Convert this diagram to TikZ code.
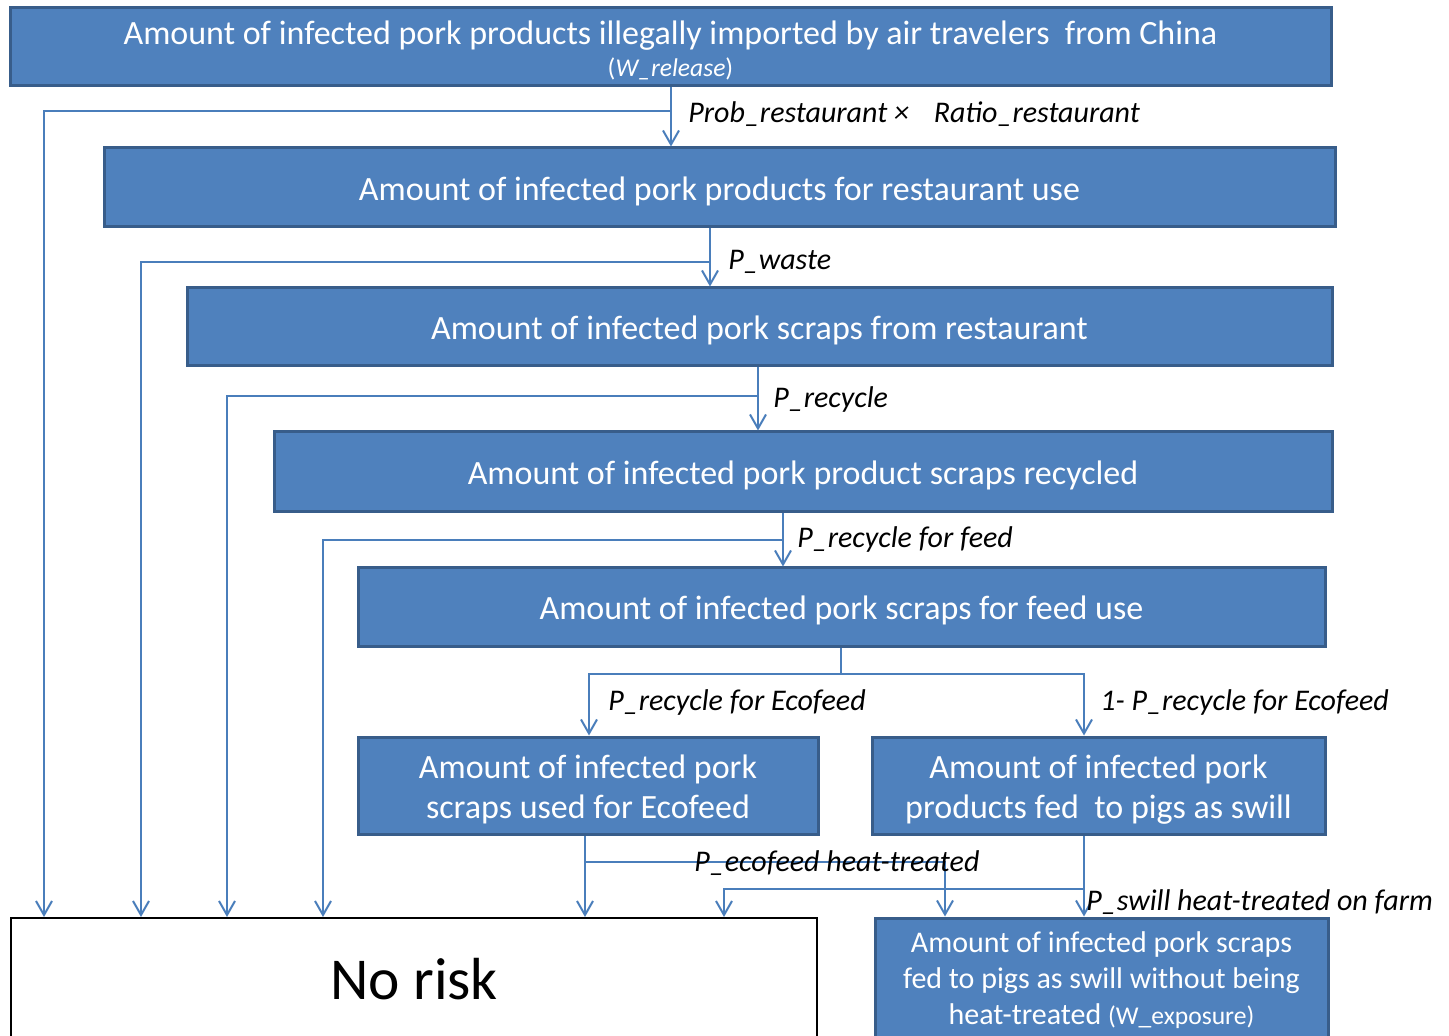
\documentclass[tikz,border=0pt]{standalone}
\usepackage{fontspec}
\setmainfont{Carlito}
\usetikzlibrary{arrows.meta}
\definecolor{boxblue}{HTML}{4F81BD}
\definecolor{boxedge}{HTML}{385D8A}
\definecolor{linkblue}{HTML}{4A7EBB}
\newcommand{\lift}{\rule{0pt}{15.5pt}}
\begin{document}
\begin{tikzpicture}[x=0.5pt,y=-0.5pt]
\tikzstyle{box}=[rectangle,draw=boxedge,fill=boxblue,line width=1.5pt,text=white,inner sep=0pt,font=\fontsize{17}{20}\selectfont,align=center]
\tikzstyle{flow}=[draw=linkblue,line width=1pt,-{Straight Barb[length=7pt,width=8pt]}]
\tikzstyle{prob}=[anchor=west,inner sep=0pt,font=\fontsize{15}{17}\selectfont\itshape]
\useasboundingbox (0,0) rectangle (1449,1036);
\node[box,minimum width=660.5pt,minimum height=39pt] (top) at (670.5,47) {\lift Amount of infected pork products illegally imported by air travelers\ \ from China\\[-4pt]{\fontsize{12.8}{14}\selectfont(\textit{W\_release})}};
\node[box,minimum width=615.5pt,minimum height=39.5pt] (rest) at (719.5,187.5) {\lift Amount of infected pork products for restaurant use};
\node[box,minimum width=572.5pt,minimum height=39pt] (scraps) at (759.5,327) {\lift Amount of infected pork scraps from restaurant};
\node[box,minimum width=529pt,minimum height=40pt] (recyc) at (803,472) {\lift Amount of infected pork product scraps recycled};
\node[box,minimum width=483.5pt,minimum height=39pt] (feed) at (841.5,607) {\lift Amount of infected pork scraps for feed use};
\node[box,minimum width=230pt,minimum height=48.5pt] (eco) at (588,785.5) {\lift Amount of infected pork\\scraps used for Ecofeed};
\node[box,minimum width=226.5pt,minimum height=48.5pt] (swill) at (1098.5,785.5) {\lift Amount of infected pork\\products fed\ \ to pigs as swill};
\node[box,minimum width=226.5pt,minimum height=62pt,font=\fontsize{15}{18}\selectfont] (expo) at (1101.5,980) {Amount of infected pork scraps\\fed to pigs as swill without being\\heat-treated {\fontsize{12.8}{14}\selectfont(W\_exposure)}};
\node[rectangle,draw=black,line width=1pt,fill=white,minimum width=403pt,minimum height=61pt,font=\fontsize{29.7}{34}\selectfont] (norisk) at (414,979) {No risk};
\coordinate (b1) at (671,111);
\coordinate (e1) at (44,111);
\coordinate (b2) at (710,262);
\coordinate (e2) at (141,262);
\coordinate (b3) at (758,396);
\coordinate (e3) at (227,396);
\coordinate (b4) at (783,540);
\coordinate (e4) at (323,540);
\coordinate (s5) at (841,674);
\coordinate (l5) at (589,674);
\coordinate (r5) at (1084,674);
\coordinate (c6) at (585,862);
\coordinate (d6) at (945,862);
\coordinate (c7) at (1084,889);
\coordinate (d7) at (724,889);
\draw[flow] (top.south -| b1) -- (rest.north -| b1);
\draw[flow] (b1) -- (e1) -- (norisk.north -| e1);
\draw[flow] (rest.south -| b2) -- (scraps.north -| b2);
\draw[flow] (b2) -- (e2) -- (norisk.north -| e2);
\draw[flow] (scraps.south -| b3) -- (recyc.north -| b3);
\draw[flow] (b3) -- (e3) -- (norisk.north -| e3);
\draw[flow] (recyc.south -| b4) -- (feed.north -| b4);
\draw[flow] (b4) -- (e4) -- (norisk.north -| e4);
\draw[flow] (feed.south -| s5) -- (s5) -- (l5) -- (eco.north -| l5);
\draw[flow] (s5) -- (r5) -- (swill.north -| r5);
\draw[flow] (eco.south -| c6) -- (norisk.north -| c6);
\draw[flow] (c6) -- (d6) -- (expo.north -| d6);
\draw[flow] (swill.south -| c7) -- (expo.north -| c7);
\draw[flow] (c7) -- (d7) -- (norisk.north -| d7);
\node[prob] (p1) at (688,114) {Prob\_restaurant ×\hspace{9pt} Ratio\_restaurant};
\node[prob] (p2) at (728,262) {P\_waste};
\node[prob] (p3) at (773,400) {P\_recycle};
\node[prob] (p4) at (797,540) {P\_recycle for feed};
\node[prob] (p5) at (608,703) {P\_recycle for Ecofeed};
\node[prob] (p6) at (1100,703) {1- P\_recycle for Ecofeed};
\node[prob] (p7) at (694,863) {P\_ecofeed heat-treated};
\node[prob] (p8) at (1086,902) {P\_swill heat-treated on farm};
\end{tikzpicture}
\end{document}
